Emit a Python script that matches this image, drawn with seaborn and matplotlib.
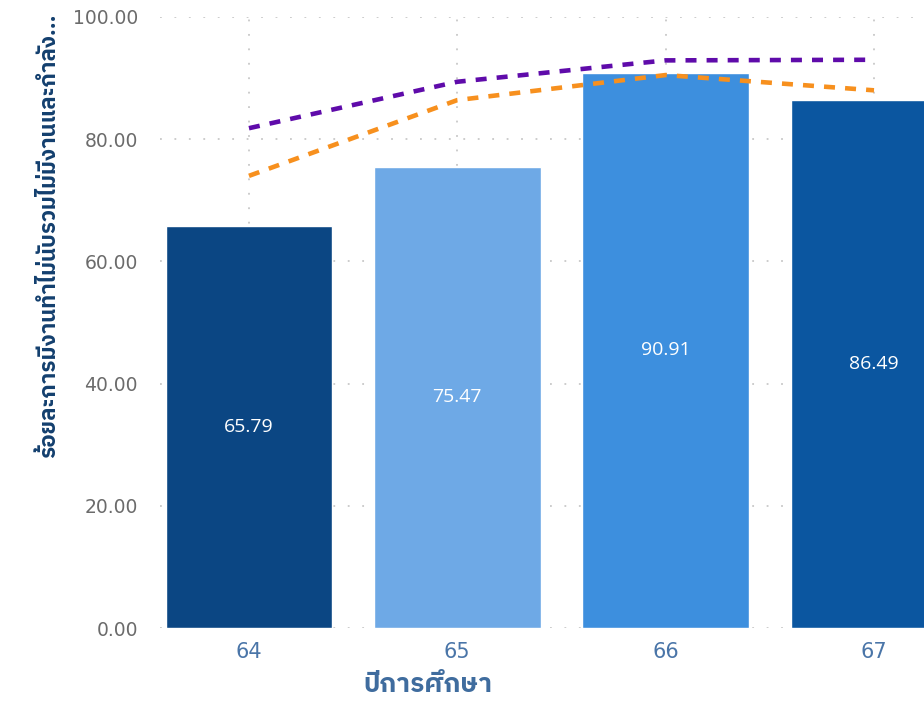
import matplotlib
matplotlib.use("Agg")
import matplotlib.pyplot as plt
import seaborn as sns
import pandas as pd
from matplotlib.ticker import FormatStrFormatter

years = [64, 65, 66, 67]
employment_rate = [65.79, 75.47, 90.91, 86.49]
purple_line = [81.8, 89.4, 92.9, 93.0]
orange_line = [74.0, 86.4, 90.5, 88.0]

bar_colors = ["#0B4683", "#6EA9E6", "#3D8FDE", "#0B56A0"]
y_ticks = [0, 20, 40, 60, 80, 100]

x_label = "ปีการศึกษา"
y_label = "ร้อยละการมีงานทำไม่นับรวมไม่มีงานและกำลัง..."

THAI = ["IBM Plex Sans Thai", "Noto Sans Thai UI", "DejaVu Sans"]

sns.set_theme(style="white")
plt.rcParams["font.family"] = ["DejaVu Sans"]

df = pd.DataFrame({"year": years, "rate": employment_rate})
lines = pd.DataFrame({
    "year": years * 2,
    "value": purple_line + orange_line,
    "series": ["purple"] * 4 + ["orange"] * 4,
})

fig = plt.figure(figsize=(9.24, 7.11), dpi=100)
ax = fig.add_axes([160 / 924, 83 / 711, 764 / 924, 611 / 711])

ax.grid(True, color="#C8C8C8", linestyle=(0, (1, 7)), linewidth=1.3)
ax.set_axisbelow(True)

sns.barplot(data=df, x="year", y="rate", hue="year", palette=bar_colors,
            native_scale=True, dodge=False, width=0.8, legend=False,
            saturation=1, ax=ax)

sns.lineplot(data=lines, x="year", y="value", hue="series",
             palette={"purple": "#5F0BAA", "orange": "#F7901E"},
             linewidth=3.3, legend=False, ax=ax, zorder=3)
for ln in ax.lines:
    ln.set_linestyle((0, (2.4, 2.2)))
    ln.set_dash_capstyle("butt")

for cont in ax.containers:
    for bar, val in zip(cont, cont.datavalues):
        ax.text(bar.get_x() + bar.get_width() / 2, val / 2, f"{val:.2f}",
                ha="center", va="center", color="white", fontsize=14,
                family=["Open Sans"])

ax.set_xlim(63.573, 67.24)
ax.set_ylim(0, 100)
ax.set_xticks(years)
ax.set_yticks(y_ticks)
ax.yaxis.set_major_formatter(FormatStrFormatter("%.2f"))
ax.tick_params(axis="y", length=0, pad=16, labelsize=13.5, labelcolor="#6B6B6B")
ax.tick_params(axis="x", length=0, pad=10, labelsize=15, labelcolor="#4A75A8")
for lab in ax.get_xticklabels():
    lab.set_family(["Noto Sans Thai UI", "DejaVu Sans"])
sns.despine(ax=ax, left=True, bottom=True)

ax.set_xlabel(x_label, family=THAI, fontsize=19, fontweight="bold",
              color="#3F6C9E")
ax.xaxis.set_label_coords(0.351, -0.074)
ax.set_ylabel(y_label, family=THAI, fontsize=16, fontweight="bold",
              color="#133F6E")
ax.yaxis.set_label_coords(-0.132, 0.642)

fig.savefig("out.png", dpi=100)
